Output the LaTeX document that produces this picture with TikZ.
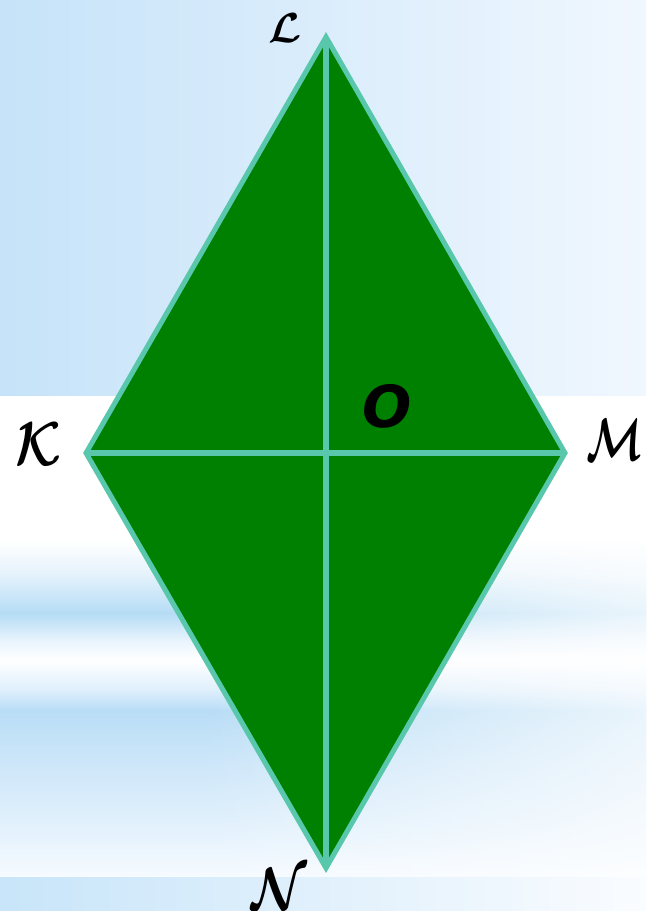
\RequirePackage{fix-cm}
\documentclass[tikz,border=0pt]{standalone}
\usepackage{fontspec}
\newfontfamily\ofont{DejaVu Sans}
\usetikzlibrary{fadings}
\definecolor{rhfill}{RGB}{0,128,0}
\definecolor{rhline}{RGB}{88,199,171}
\definecolor{bgTL}{RGB}{198,227,249}
\definecolor{bgTR}{RGB}{240,247,254}
\definecolor{sA}{RGB}{228,242,252}
\definecolor{bA}{RGB}{181,220,245}
\definecolor{sB}{RGB}{232,244,253}
\definecolor{sC}{RGB}{222,239,252}
\definecolor{bB}{RGB}{184,221,246}
\definecolor{sD}{RGB}{204,230,249}
\definecolor{sE}{RGB}{224,240,252}
\definecolor{sF}{RGB}{246,251,255}
\definecolor{bsL}{RGB}{200,229,249}
\definecolor{bsR}{RGB}{250,252,255}
\tikzfading[name=fadeR, left color=transparent!100, right color=transparent!0]
\begin{document}
\begin{tikzpicture}[x=1pt,y=-1pt,
  lbl/.style={inner sep=0pt, text=black},
  edge/.style={draw=rhline, line width=5pt, line join=miter},
  diag/.style={draw=rhline, line width=5.5pt}]
\useasboundingbox (0,0) rectangle (646,911);
% background
\shade[left color=bgTL, right color=bgTR] (0,0) rectangle (646,396.5);
\fill[white] (0,396) rectangle (646,540.5);
\shade[top color=white, bottom color=sA] (0,540) rectangle (646,575.5);
\shade[top color=sA, bottom color=bA] (0,575) rectangle (646,613.5);
\shade[top color=bA, bottom color=sB] (0,613) rectangle (646,640.5);
\shade[top color=sB, bottom color=white] (0,640) rectangle (646,660.5);
\shade[top color=white, bottom color=sC] (0,660) rectangle (646,690.5);
\shade[top color=sC, bottom color=bB] (0,690) rectangle (646,710.5);
\shade[top color=bB, bottom color=sD] (0,710) rectangle (646,760.5);
\shade[top color=sD, bottom color=sE] (0,760) rectangle (646,820.5);
\shade[top color=sE, bottom color=sF] (0,820) rectangle (646,877.5);
\fill[white, opacity=0.7, path fading=fadeR] (200,540) rectangle (646,877);
\shade[left color=bsL, right color=bsR] (0,877) rectangle (646,911);
% rhombus
\coordinate (L) at (326,37);
\coordinate (K) at (86,453);
\coordinate (M) at (565,453);
\coordinate (N) at (326,868);
\path[fill=rhfill, edge] (L) -- (M) -- (N) -- (K) -- cycle;
\draw[diag] (K) -- (M);
\draw[diag] (L) -- (N);
% labels
\node[lbl, font=\boldmath\fontsize{42}{42}\selectfont] (lL) at (285,28) {$\mathcal{L}$};
\node[lbl, font=\boldmath\fontsize{62}{62}\selectfont, xscale=0.85] (lK) at (38,444) {$\mathcal{K}$};
\node[lbl, font=\boldmath\fontsize{60}{60}\selectfont, xscale=0.68] (lM) at (615,440) {$\mathcal{M}$};
\node[lbl, font=\boldmath\fontsize{60}{60}\selectfont, xscale=0.85] (lN) at (279,889) {$\mathcal{N}$};
\node[lbl, font=\ofont\bfseries\itshape\fontsize{58}{58}\selectfont] (lO) at (387,406) {O};
\end{tikzpicture}
\end{document}
